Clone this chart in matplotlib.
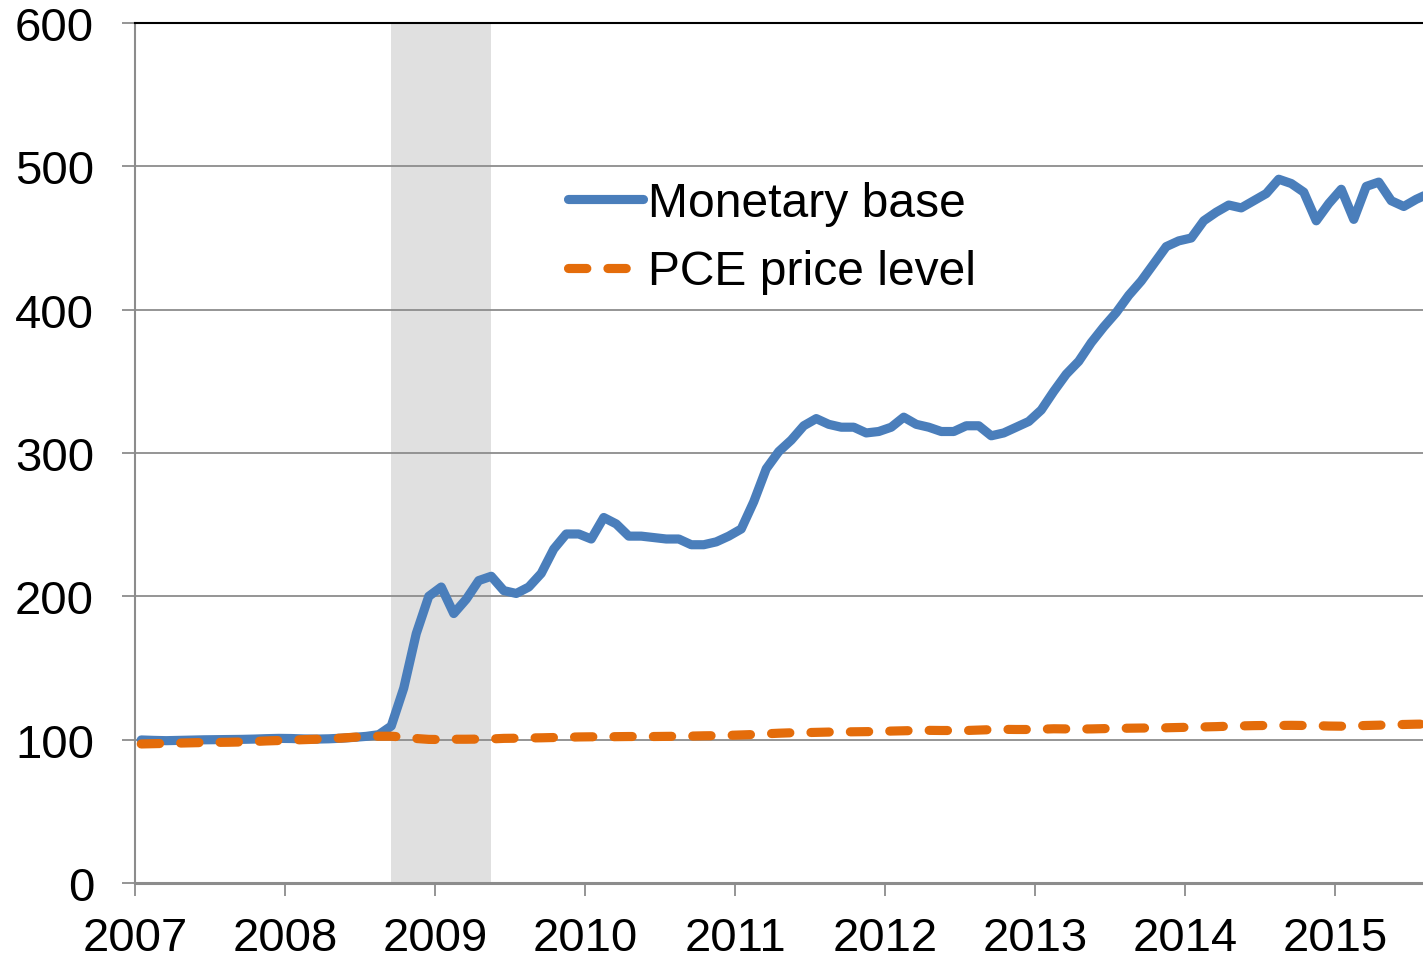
import numpy as np
import matplotlib
matplotlib.use("Agg")
import matplotlib.pyplot as plt

plt.rcParams['font.family'] = ['Liberation Sans', 'DejaVu Sans']

# monthly data, Jan 2007 - Aug 2015 (index, 2007 ~ 100)
start_year = 2007
monetary_base = [
    99.8, 99.5, 99.3, 99.5, 99.7, 99.9, 100.0, 100.1, 100.2, 100.4, 100.7, 100.9,
    100.8, 100.5, 100.4, 100.6, 101.0, 101.6, 102.3, 103.5, 109.5, 136, 174, 200,
    206.5, 188, 198, 211, 214, 204, 202, 206.5, 216, 233, 243.5, 243.5,
    240, 255, 250.5, 242, 242, 241, 240, 240, 236, 236, 238, 242,
    247, 266, 289, 301, 309, 319, 324, 320, 318, 318, 314, 315,
    318, 325, 320, 318, 315, 315, 319, 319, 312, 314, 318, 322,
    330, 343, 355, 364, 377, 388, 398, 410, 420, 432, 444, 448,
    450, 462, 468, 473, 471, 476, 481, 491, 488, 482, 462, 474,
    484, 463, 486, 489, 476, 472, 477, 481,
]
pce_price = [
    97.0, 97.2, 97.4, 97.6, 97.8, 98.0, 98.1, 98.2, 98.4, 98.7, 99.1, 99.4,
    99.7, 100.0, 100.3, 100.7, 101.1, 101.7, 102.2, 102.4, 102.4, 101.8, 100.8, 100.2,
    100.1, 100.3, 100.3, 100.4, 100.5, 100.9, 101.0, 101.2, 101.3, 101.5, 101.7, 101.9,
    102.0, 102.0, 102.1, 102.2, 102.2, 102.2, 102.3, 102.4, 102.5, 102.7, 102.8, 103.0,
    103.3, 103.6, 104.1, 104.5, 104.8, 104.9, 105.1, 105.3, 105.4, 105.5, 105.6, 105.7,
    106.0, 106.2, 106.4, 106.5, 106.4, 106.4, 106.4, 106.7, 107.0, 107.2, 107.1, 107.1,
    107.3, 107.6, 107.5, 107.4, 107.5, 107.7, 107.9, 108.0, 108.1, 108.2, 108.3, 108.5,
    108.7, 108.9, 109.1, 109.4, 109.6, 109.8, 109.9, 109.9, 110.0, 109.9, 109.8, 109.5,
    109.4, 109.6, 109.9, 110.1, 110.4, 110.6, 110.8, 110.9,
]
# recession shading, first and last month (mid-month)
recession = (2008 + 8.5 / 12, 2009 + 4.5 / 12)
year_ticks = list(range(2007, 2016))

# mid-month positions in decimal years
months = start_year + (np.arange(len(monetary_base)) + 0.5) / 12

fig = plt.figure(figsize=(14.23, 9.62), dpi=100)
ax = fig.add_axes([135 / 1423, 1 - 884 / 962, 1 - 135 / 1423, (884 - 24) / 962])

ax.axvspan(recession[0], recession[1], color='#e0e0e0', zorder=0, lw=0)

ax.plot(months, monetary_base, color='#4a7ebb', lw=6.6, label='Monetary base',
        solid_capstyle='round', solid_joinstyle='round', zorder=3)
ax.plot(months, pce_price, color='#e46c0a', lw=6.6, label='PCE price level',
        dashes=(2.0, 2.3), dash_capstyle='round', zorder=3)

ax.set_xlim(2007, 2007 + 1288 / 150)
ax.set_ylim(0, 600)
ax.set_xticks(year_ticks)
ax.set_xticklabels([str(y) for y in year_ticks])
ax.set_yticks(range(0, 601, 100))

ax.grid(axis='y', color='#8c8c8c', lw=1.3, zorder=1)
ax.set_axisbelow(True)

ax.spines['right'].set_visible(False)
ax.spines['top'].set_color('black')
ax.spines['top'].set_linewidth(1.5)
ax.spines['left'].set_color('#8c8c8c')
ax.spines['left'].set_linewidth(1.5)
ax.spines['bottom'].set_color('#8c8c8c')
ax.spines['bottom'].set_linewidth(2.2)

ax.tick_params(axis='both', colors='#8c8c8c', labelcolor='black', labelsize=34,
               length=9.5, width=1.3)
ax.tick_params(axis='y', pad=20)
ax.tick_params(axis='x', pad=14)

ax.legend(loc='upper left', bbox_to_anchor=(0.336, 0.8165), frameon=False,
          fontsize=34.6, handlelength=1.56, handletextpad=0.1,
          labelspacing=0.49, borderaxespad=0, borderpad=0)

fig.savefig('out.png', dpi=100)
